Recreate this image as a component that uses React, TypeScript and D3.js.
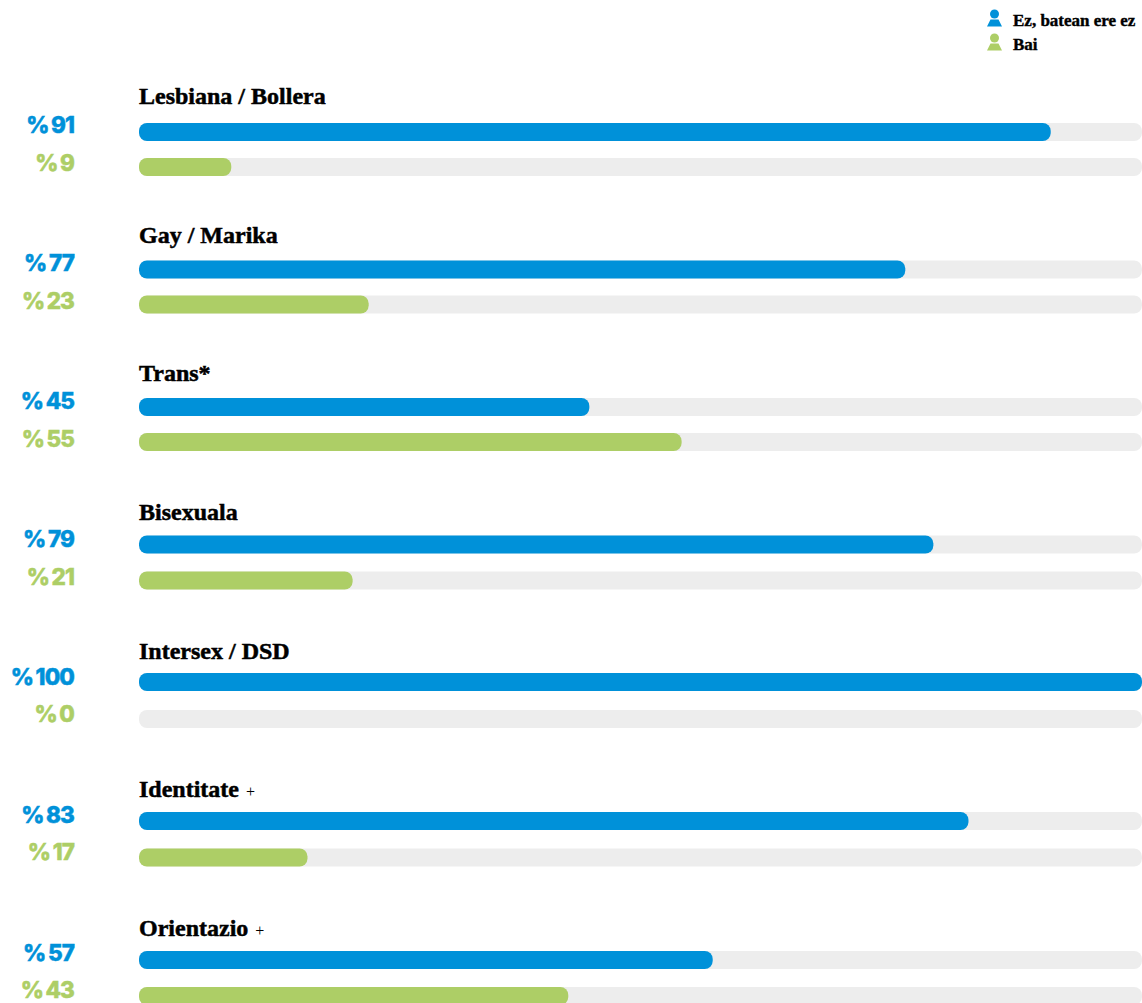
import React from "react";
import * as d3 from "d3";

const categories = ["Lesbiana / Bollera", "Gay / Marika", "Trans*", "Bisexuala", "Intersex / DSD", "Identitate", "Orientazio"];
const suffixes = ["", "", "", "", "", "+", "+"];
const ezLabels = [91, 77, 45, 79, 100, 83, 57];
const baiLabels = [9, 23, 55, 21, 0, 17, 43];
const ezValues = [90.9, 76.4, 44.9, 79.2, 100, 82.7, 57.2];
const baiValues = [9.2, 22.9, 54.1, 21.3, 0, 16.8, 42.8];
const legendNames = ["Ez, batean ere ez", "Bai"];

const BLUE = "#0091d9";
const GREEN = "#adce66";
const TRACK = "#ededed";
const SERIF = "'Liberation Serif', serif";
const SANS = "Inter, 'Noto Sans', sans-serif";
const W = 1142, H = 1003, BAR_H = 18;

const x = d3.scaleLinear().domain([0, 100]).range([139, 1142]);
const anchors = [0, 2, 4, 6];
const yEz = d3.scaleLinear().domain(anchors).range([123, 398, 673, 951]);
const yBai = d3.scaleLinear().domain(anchors).range([158, 433, 710, 987]);
const yTitle = d3.scaleLinear().domain([0, 6]).range([104, 936]);
const yEzLabel = d3.scaleLinear().domain([0, 6]).range([133, 961]);
const yBaiLabel = d3.scaleLinear().domain([0, 6]).range([171, 998]);

function Bar({ y, value, color }: { y: number; value: number; color: string }) {
  const w = x(value) - x(0);
  return (
    <g>
      <rect x={x(0)} y={y} width={x(100) - x(0)} height={BAR_H} rx={8} fill={TRACK} />
      {w > 0 && <rect x={x(0)} y={y} width={w} height={BAR_H} rx={8} fill={color} />}
    </g>
  );
}

function Person({ cx, top, color }: { cx: number; top: number; color: string }) {
  return (
    <g fill={color}>
      <circle cx={cx} cy={top + 4.5} r={4.5} />
      <path d={`M${cx - 4} ${top + 10}H${cx + 4}L${cx + 7.5} ${top + 17}H${cx - 7.5}Z`} />
    </g>
  );
}

function Pct({ y, value, color }: { y: number; value: number; color: string }) {
  return (
    <text x={74} y={y} textAnchor="end" fontFamily={SANS} fontWeight={800} fontSize={22.5} letterSpacing={-0.9} wordSpacing={-1.5} fill={color} stroke={color} strokeWidth={0.5}>
      {`% ${value}`}
    </text>
  );
}

export default function App() {
  const legendColors = [BLUE, GREEN];
  return (
    <svg width={W} height={H} viewBox={`0 0 ${W} ${H}`} style={{ position: "absolute", left: 0, top: 0 }}>
      <rect width={W} height={H} fill="#fff" />
      {legendNames.map((name, i) => (
        <g key={name}>
          <Person cx={994.5} top={9.5 + i * 24} color={legendColors[i]} />
          <text x={1013} y={26 + i * 24} fontFamily={SERIF} fontWeight={700} fontSize={17} fill="#000" stroke="#000" strokeWidth={0.4}>
            {name}
          </text>
        </g>
      ))}
      {categories.map((c, i) => (
        <g key={c}>
          <text x={139} y={yTitle(i)} fontFamily={SERIF} fontWeight={700} fontSize={24} fill="#000" stroke="#000" strokeWidth={0.5}>
            {c}
            {suffixes[i] && <tspan dx={7} fontWeight={400} fontSize={16} strokeWidth={0}>{suffixes[i]}</tspan>}
          </text>
          <Bar y={yEz(i)} value={ezValues[i]} color={BLUE} />
          <Bar y={yBai(i)} value={baiValues[i]} color={GREEN} />
          <Pct y={yEzLabel(i)} value={ezLabels[i]} color={BLUE} />
          <Pct y={yBaiLabel(i)} value={baiLabels[i]} color={GREEN} />
        </g>
      ))}
    </svg>
  );
}
